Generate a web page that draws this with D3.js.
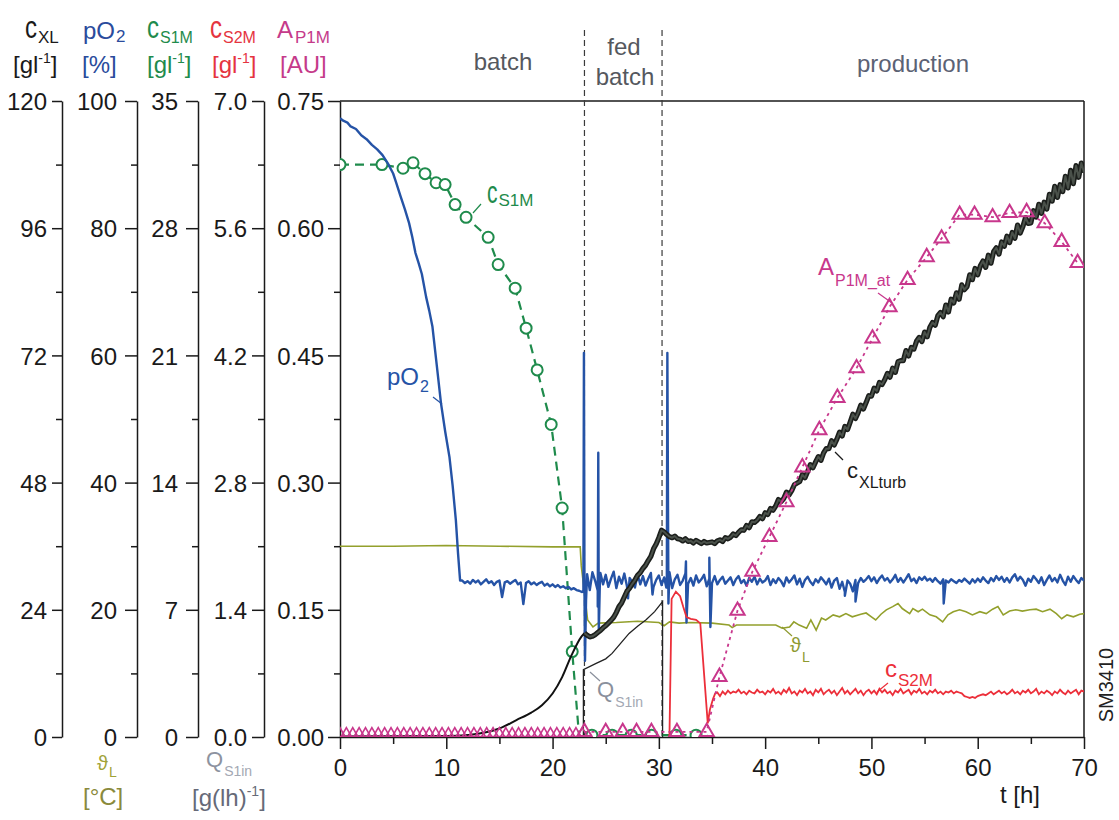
<!DOCTYPE html>
<html>
<head>
<meta charset="utf-8">
<script src="https://cdn.jsdelivr.net/npm/d3@7"></script>
<style>
  body { margin: 0; background: #fff; }
  svg { display: block; }
  text { font-family: "Liberation Sans", Arial, Helvetica, sans-serif; }
</style>
</head>
<body>
<svg id="chart" width="1119" height="820"></svg>
<script>
// ---------------- time axis ----------------
const tTicks = [0, 10, 20, 30, 40, 50, 60, 70];
const tMinor = [5, 15, 25, 35, 45, 55, 65];
const phaseBounds = [23.0, 30.3];          // batch | fed batch | production

// ---------------- left axes (tick values) ----------------
const xlTicks  = [0, 24, 48, 72, 96, 120];            // c_XL  [g/l]
const po2Ticks = [0, 20, 40, 60, 80, 100];            // pO2 [%], also theta_L [°C]
const s1Ticks  = [0, 7, 14, 21, 28, 35];              // c_S1M [g/l]
const s2Ticks  = [0, 1.4, 2.8, 4.2, 5.6, 7.0];        // c_S2M [g/l], also Q_S1in
const apTicks  = [0, 0.15, 0.30, 0.45, 0.60, 0.75];   // A_P1M [AU]

// ---------------- pO2 [%] ----------------
// initial decline (t [h], %)
const pO2Start = [
  [0, 97.3], [0.3, 96.9], [0.7, 96.6], [1.0, 96.0], [1.5, 95.6], [2.0, 94.6], [2.5, 94.0],
  [3.0, 93.1], [3.5, 92.4], [4.0, 91.5], [4.5, 90.2], [5.0, 88.6], [5.3, 87.1], [5.7, 85.0],
  [6.1, 83.0], [6.5, 80.8], [6.8, 78.6], [7.1, 76.1], [7.4, 74.5], [7.7, 72.8], [8.1, 69.2],
  [8.4, 67.0], [8.7, 64.5], [9.1, 58.5], [9.5, 52.5], [9.9, 48.0], [10.3, 44.0], [10.6, 39.5],
  [10.9, 34.1], [11.1, 29.0], [11.3, 24.6]
];
// controlled phase, sampled every 0.25 h from 11.5 h
const pO2Start2 = 11.5, pO2Step = 0.25;
const pO2Ctrl = [
  24.6, 24.2,
  24.5, 24.1, 24.7, 24.3,   24.6, 24.0, 24.4, 24.8,   24.2, 24.5, 23.9, 24.4,
  24.6, 22.0, 24.3, 24.5,   24.1, 24.4, 24.7, 24.0,   24.3, 20.9, 24.2, 24.5,
  24.0, 24.3, 23.9, 24.2,   24.4, 23.8, 24.1, 23.7,   24.0, 23.6, 23.9, 23.5,
  23.7, 23.4, 23.6, 23.2,   23.4, 23.1, 23.0, 22.8,
  23.8, 25.6, 23.1, 25.9,   24.6, 23.0, 25.8, 24.0,   25.5, 23.6, 24.9, 26.0,
  23.4, 25.2, 24.1, 25.7,   23.7, 25.0, 24.4, 23.5,   25.6, 24.0, 25.3, 23.8,
  24.9, 25.8, 23.6, 24.7,   25.4, 23.9, 25.1, 24.2,   25.9, 23.4, 24.8, 25.5,
  23.9, 24.6, 25.7, 24.1,   25.0, 23.8, 25.4, 24.3,   24.8, 25.5, 23.7, 24.9,
  24.2, 25.3, 24.0, 24.7,   25.2, 24.1, 24.6, 25.1,   23.9, 24.8, 25.3, 24.2,
  24.7, 23.8, 25.0, 24.4,   25.2, 24.0, 24.9, 24.3,   24.6, 25.3, 23.9, 24.8,
  24.2, 25.0, 24.5, 23.7,   25.1, 24.3, 24.8, 25.4,   24.0, 24.9, 23.6, 24.7,
  25.2, 24.4, 23.9, 24.8,   24.3, 25.1, 24.6, 24.0,   24.9, 23.5, 24.6, 25.0,
  23.3, 24.4, 22.8, 24.6,   24.1, 22.9, 24.7, 24.2,   25.0, 24.4, 24.8, 25.3,
  24.5, 25.1, 24.2, 24.9,   25.4, 24.6, 25.0, 24.3,   24.8, 25.5, 24.4, 25.0,
  24.3, 24.9, 25.6, 24.5,   24.9, 24.2, 25.1, 24.7,   25.2, 24.6, 24.9, 24.4,
  25.0, 24.5, 24.1, 24.8,   24.6, 24.3, 24.8, 24.5,   24.2, 24.7, 24.4, 24.9,
  24.5, 24.1, 24.8, 24.3,   24.9, 24.4, 25.1, 24.6,   24.2, 25.0, 24.5, 25.3,
  24.7, 25.2, 24.4, 25.0,   24.3, 25.1, 25.6, 24.6,   25.2, 24.7, 23.8, 24.9,
  24.4, 25.3, 24.8, 24.2,   25.1, 23.9, 24.7, 25.4,   24.5, 25.0, 24.3, 25.5,
  24.6, 23.9, 25.2, 24.4,   25.3, 24.7, 24.2, 25.0,
  24.6
];
// sharp excursions (feed pulses, sampling)
const pO2Spikes = [
  [22.9, 23.0], [22.95, 60.4], [23.05, 12.0], [23.15, 21.5],
  [24.25, 20.5], [24.3, 44.7], [24.35, 16.8], [24.45, 24.2],
  [27.1, 21.8], [29.4, 22.4], [30.7, 23.5], [30.8, 60.4], [30.9, 21.0],
  [32.55, 27.6], [32.6, 18.0], [34.75, 28.2], [34.85, 17.3],
  [47.5, 22.2], [48.5, 21.3], [56.8, 21.0]
];

// ---------------- theta_L [°C] ----------------
const thetaL = [
  [0, 30.0], [5, 30.0], [10, 30.1], [15, 30.0], [20, 29.9], [22.6, 29.9], [22.7, 26.9],
  [23.3, 18.4], [23.8, 17.3], [24.3, 17.9], [26, 18.0], [28, 18.2], [30, 18.0], [30.5, 17.5],
  [31, 18.1], [31.9, 17.9], [33, 18.0], [35, 17.9], [36.6, 17.6], [36.9, 17.2], [37.3, 17.6],
  [41.0, 17.6], [41.6, 17.1], [42.3, 17.3], [42.7, 18.1], [43.2, 17.6], [43.9, 17.1],
  [44.3, 18.4], [44.8, 16.8], [45.3, 18.7], [45.7, 18.4], [46.4, 19.2], [47.0, 18.9],
  [47.6, 19.4], [48.2, 18.9], [49.0, 19.3], [49.5, 19.5], [50.0, 18.9], [50.4, 18.4],
  [50.9, 19.3], [51.4, 20.0], [52.0, 20.5], [52.5, 21.0], [52.9, 20.2], [53.6, 19.4],
  [53.9, 20.2], [54.4, 19.7], [54.8, 20.1], [55.5, 19.2], [56.1, 18.9], [56.7, 18.1],
  [57.2, 19.2], [57.7, 19.7], [58.3, 20.0], [58.9, 19.7], [59.5, 19.2], [60.2, 19.7],
  [60.8, 19.4], [61.4, 20.1], [61.9, 20.5], [62.4, 19.2], [63.0, 19.8], [63.6, 20.0],
  [64.2, 19.8], [64.9, 20.0], [65.5, 20.1], [66.1, 19.7], [66.8, 20.1], [67.4, 19.4],
  [67.9, 18.6], [68.4, 19.2], [69.0, 18.9], [69.6, 19.3], [70.0, 19.4]
];

// ---------------- c_S1M [g/l] ----------------
const cS1M = [
  [0, 31.5], [3.95, 31.5], [5.93, 31.3], [6.87, 31.6], [8.0, 31.0], [9.04, 30.5],
  [9.89, 30.4], [10.83, 29.3], [11.86, 28.6], [13.94, 27.5], [14.88, 26.0], [16.48, 24.7],
  [17.51, 22.5], [18.55, 20.2], [19.87, 17.2], [20.9, 12.6], [21.85, 4.7]
];
const cS1MDepletion = [22.5, 0];
const cS1MAfter = [[23.7, 0.1], [25.6, 0.1], [27.4, 0.1], [29.3, 0.1], [31.6, 0.1], [33.5, 0.1]];
const cS1MTail = [34.6, 0.1];

// ---------------- Q_S1in [g/(l h)] ----------------
const qS1in = [
  [22.9, 0], [22.9, 0.74], [24.1, 0.81], [25.0, 0.86], [25.6, 0.92], [26.4, 1.03],
  [27.2, 1.14], [28.0, 1.22], [28.8, 1.29], [29.6, 1.38], [30.35, 1.49], [30.35, 0]
];

// ---------------- c_XL (turbidity) [g/l] ----------------
const cXLBatch = [
  [0, 0.1], [10, 0.2], [12.1, 0.4], [13.5, 0.8], [15, 1.6], [16.6, 3.2], [18, 4.6],
  [19, 6.0], [20, 8.2], [20.9, 11.3], [21.8, 15.5], [22.7, 18.9], [23.0, 19.6]
];
const cXLStart = 23.0, cXLStep = 0.25;
const cXL = [
  19.6, 19.2, 18.9, 19.0,   19.3, 19.7, 20.1, 20.6,   21.0, 21.5, 22.0, 22.6,
  23.5, 24.6, 25.3, 26.4,   27.5, 28.1, 28.9, 29.6,   30.5, 31.0, 31.8, 32.4,
  33.3, 34.1, 35.5, 36.4,   37.6, 39.0, 38.7, 38.2,   37.8, 37.6, 37.9, 37.4,
  37.3, 37.0, 37.4, 36.9,   37.0, 36.6, 37.1, 36.8,   36.5, 36.9, 36.6, 36.7,
  36.8, 36.5, 37.0, 37.2,   36.9, 37.6, 37.4, 37.7,   38.3, 38.0, 38.6, 39.1,
  39.0, 39.9, 39.5, 40.6,   40.5, 40.9, 41.6, 41.2,   42.3, 42.0, 43.1, 42.8,
  43.6, 44.8, 44.4, 45.0,   46.2, 45.7, 46.5, 47.6,   47.9, 48.2, 49.5, 48.9,
  50.1, 51.4, 50.8, 51.9,   52.9, 52.2, 53.6, 54.4,   54.4, 55.9, 55.1, 56.2,
  57.5, 56.8, 58.6, 58.0,   59.4, 60.9, 60.1, 61.2,   62.6, 61.9, 63.1, 64.4,
  64.3, 65.8, 65.3, 66.9,   66.5, 67.4, 68.6, 67.9,   69.6, 68.8, 70.8, 71.0,
  71.0, 72.9, 71.9, 73.5,   73.2, 74.7, 75.4, 74.6,   76.4, 75.5, 77.3, 78.2,
  77.7, 79.5, 80.1, 79.3,   81.5, 80.2, 82.6, 81.9,   83.8, 82.6, 85.3, 84.4,
  85.0, 87.2, 86.3, 88.4,   87.2, 88.9, 89.8, 88.6,   90.9, 89.4, 91.6, 92.3,
  91.1, 93.4, 92.6, 94.5,   93.3, 95.2, 94.1, 96.6,   95.1, 96.3, 98.0, 96.9,
  97.0, 99.3, 98.1, 100.5,  98.8, 100.9, 99.6, 102.4, 101.1, 103.9, 101.8, 104.2,
  102.9, 105.8, 103.6, 106.9, 104.4, 107.8, 105.6, 108.3,
  106.5
];

// ---------------- c_S2M [g/l] ----------------
const cS2MPulse = [
  [30.95, 0], [31.0, 0.03], [31.2, 1.52], [31.6, 1.60], [32.0, 1.55], [32.3, 1.43],
  [32.6, 1.32], [33.0, 1.30], [33.5, 1.29], [33.9, 1.25], [34.6, 0.15], [34.8, 0.30],
  [35.1, 0.42], [35.3, 0.48]
];
const cS2MStart = 35.5, cS2MStep = 0.25;
const cS2M = [
  0.49, 0.45,
  0.50, 0.47, 0.51, 0.48,   0.50, 0.49, 0.52, 0.48,   0.50, 0.47, 0.51, 0.49,
  0.48, 0.52, 0.49, 0.50,   0.47, 0.51, 0.49, 0.53,   0.48, 0.50, 0.47, 0.52,
  0.49, 0.54, 0.48, 0.50,   0.46, 0.51, 0.49, 0.53,   0.48, 0.50, 0.46, 0.52,
  0.49, 0.53, 0.47, 0.50,   0.52, 0.48, 0.51, 0.46,   0.50, 0.54, 0.48, 0.51,
  0.47, 0.50, 0.53, 0.48,   0.51, 0.46, 0.50, 0.52,   0.48, 0.51, 0.47, 0.53,
  0.49, 0.52, 0.48, 0.50,   0.46, 0.51, 0.49, 0.53,   0.48, 0.50, 0.52, 0.47,
  0.51, 0.49, 0.53, 0.48,   0.50, 0.47, 0.51, 0.49,   0.52, 0.48, 0.50, 0.47,
  0.50, 0.49, 0.51, 0.48,   0.50, 0.49, 0.48, 0.45,   0.44, 0.43, 0.44, 0.43,
  0.45, 0.46, 0.47, 0.46,   0.48, 0.50, 0.47, 0.49,   0.51, 0.48, 0.50, 0.47,
  0.49, 0.52, 0.48, 0.50,   0.47, 0.51, 0.49, 0.52,   0.48, 0.50, 0.53, 0.47,
  0.50, 0.48, 0.51, 0.49,   0.46, 0.50, 0.48, 0.52,   0.49, 0.47, 0.51, 0.48,
  0.50, 0.52, 0.47, 0.51,
  0.50
];

// ---------------- A_P1M_at [AU] ----------------
const aBatchT = [
  0, 0.6, 1.2, 1.8, 2.4, 3.0, 3.6, 4.2, 4.8, 5.4, 6.0, 6.6, 7.2, 7.8, 8.4, 9.0, 9.6, 10.2,
  10.8, 11.4, 12.0, 12.6, 13.2, 13.8, 14.4, 15.0, 15.6, 16.2, 16.8, 17.4, 18.0, 18.6, 19.2,
  19.8, 20.4, 21.0, 21.6, 22.2, 22.8
];
const aBatchVal = 0.004;
const aP1M = [
  [23.0, 0.006], [25.0, 0.006], [26.6, 0.006], [27.9, 0.006], [29.3, 0.006], [31.7, 0.006],
  [34.5, 0.006], [35.7, 0.071], [37.4, 0.149], [38.8, 0.195], [40.4, 0.236], [42.0, 0.277],
  [43.5, 0.318], [45.1, 0.362], [46.8, 0.400], [48.6, 0.435], [50.1, 0.470], [51.7, 0.507],
  [53.4, 0.539], [55.2, 0.566], [56.6, 0.588], [58.3, 0.616], [59.7, 0.616], [61.4, 0.613],
  [63.0, 0.618], [64.6, 0.619], [66.3, 0.606], [67.9, 0.584], [69.4, 0.559]
];

// ================= drawing =================
const svg = d3.select("#chart");
const X0 = 340, X1 = 1084, YB = 737, YT = 101;

const x    = d3.scaleLinear().domain([0, 70]).range([X0, X1]);
const yXL  = d3.scaleLinear().domain([0, 120]).range([YB, YT]);
const yPO2 = d3.scaleLinear().domain([0, 100]).range([YB, YT]);
const yS1  = d3.scaleLinear().domain([0, 35]).range([YB, YT]);
const yS2  = d3.scaleLinear().domain([0, 7]).range([YB, YT]);
const yA   = d3.scaleLinear().domain([0, 0.75]).range([YB, YT]);

const COL = {
  ink: "#1a1a1a", blue: "#2553a6", green: "#1f8b4c", red: "#ec2f3a",
  mag: "#c8378c", olive: "#93a02c", oliveTxt: "#8e9a30", gray: "#8a909c"
};

const regular = (t0, dt, vals) => vals.map((v, i) => [t0 + i * dt, v]);

// ---- stacked left axes ----
const axesSpec = [
  { scale: yXL,  pos: 62,  ticks: xlTicks,  fmt: d3.format("d"),   size: 10, pad: 5 },
  { scale: yPO2, pos: 137, ticks: po2Ticks, fmt: d3.format("d"),   size: 12, pad: 8 },
  { scale: yS1,  pos: 198, ticks: s1Ticks,  fmt: d3.format("d"),   size: 12, pad: 8 },
  { scale: yS2,  pos: 264, ticks: s2Ticks,  fmt: d3.format(".1f"), size: 12, pad: 5 },
  { scale: yA,   pos: 340, ticks: apTicks,  fmt: d3.format(".2f"), size: 12, pad: 4 }
];
axesSpec.forEach(a => {
  const g = svg.append("g").attr("transform", `translate(${a.pos},0)`);
  g.call(d3.axisLeft(a.scale).tickValues(a.ticks).tickFormat(a.fmt)
          .tickSize(a.size).tickSizeOuter(0).tickPadding(a.pad));
  const minors = d3.pairs(a.ticks).map(([p, q]) => (p + q) / 2);
  g.append("g").call(d3.axisLeft(a.scale).tickValues(minors).tickSize(6).tickFormat(""))
    .call(s => s.select(".domain").remove());
  g.attr("font-size", 24).attr("font-family", null).style("color", COL.ink);
  g.selectAll("path, line").attr("stroke-width", 1.5);
  g.selectAll(".tick text").attr("dy", "0.36em");
});

// ---- time axis ----
const gx = svg.append("g").attr("transform", `translate(0,${YB})`);
gx.call(d3.axisBottom(x).tickValues(tTicks).tickFormat(d3.format("d"))
         .tickSize(12).tickSizeOuter(0).tickPadding(10));
gx.append("g").call(d3.axisBottom(x).tickValues(tMinor).tickSize(7).tickFormat(""))
  .call(s => s.select(".domain").remove());
gx.attr("font-size", 24).attr("font-family", null).style("color", COL.ink);
gx.selectAll("path, line").attr("stroke-width", 1.5);

// ---- frame ----
svg.append("line").attr("x1", X0).attr("x2", X1).attr("y1", YT).attr("y2", YT)
  .attr("stroke", COL.ink).attr("stroke-width", 1.5);
svg.append("line").attr("x1", X1).attr("x2", X1).attr("y1", YT).attr("y2", YB)
  .attr("stroke", COL.ink).attr("stroke-width", 1.5);

// ---- phase boundaries ----
svg.selectAll("line.phase").data(phaseBounds).join("line").attr("class", "phase")
  .attr("x1", d => x(d)).attr("x2", d => x(d)).attr("y1", 30).attr("y2", YB)
  .attr("stroke", "#3a3a3a").attr("stroke-width", 1.2).attr("stroke-dasharray", "6,4");

// ---- plot area ----
svg.append("clipPath").attr("id", "plotClip").append("rect")
  .attr("x", X0).attr("y", YT - 4).attr("width", X1 - X0).attr("height", YB - YT + 4);
const plot = svg.append("g").attr("clip-path", "url(#plotClip)");

const lineOn = ys => d3.line().x(d => x(d[0])).y(d => ys(d[1]));

// temperature
plot.append("path").datum(thetaL).attr("d", lineOn(yPO2))
  .attr("fill", "none").attr("stroke", COL.olive).attr("stroke-width", 1.6);

// substrate feed rate
plot.append("path").datum(qS1in).attr("d", lineOn(yS2))
  .attr("fill", "none").attr("stroke", "#222").attr("stroke-width", 1.3);

// substrate 1 (dashed with circles)
const s1Line = cS1M.concat([cS1MDepletion], cS1MAfter, [cS1MTail]);
plot.append("path").datum(s1Line).attr("d", lineOn(yS1))
  .attr("fill", "none").attr("stroke", COL.green).attr("stroke-width", 2.2)
  .attr("stroke-dasharray", "9,6");
plot.selectAll("circle.s1").data(cS1M.concat(cS1MAfter)).join("circle").attr("class", "s1")
  .attr("cx", d => x(d[0])).attr("cy", d => yS1(d[1])).attr("r", 5.5)
  .attr("fill", "#fff").attr("stroke", COL.green).attr("stroke-width", 2);

// dissolved oxygen
const pO2All = pO2Start.concat(regular(pO2Start2, pO2Step, pO2Ctrl), pO2Spikes)
  .sort((a, b) => a[0] - b[0]);
plot.append("path").datum(pO2All).attr("d", lineOn(yPO2))
  .attr("fill", "none").attr("stroke", COL.blue).attr("stroke-width", 2.4)
  .attr("stroke-linejoin", "round");

// biomass: thin in batch, broad noisy turbidity signal afterwards
plot.append("path").datum(cXLBatch).attr("d", lineOn(yXL).curve(d3.curveMonotoneX))
  .attr("fill", "none").attr("stroke", "#111").attr("stroke-width", 2);
const cXLProd = regular(cXLStart, cXLStep, cXL);
plot.append("path").datum(cXLProd).attr("d", lineOn(yXL))
  .attr("fill", "none").attr("stroke", "#1c1f1c").attr("stroke-width", 5.2)
  .attr("stroke-linejoin", "round");
plot.append("path").datum(cXLProd).attr("d", lineOn(yXL))
  .attr("fill", "none").attr("stroke", "#4a514a").attr("stroke-width", 2)
  .attr("stroke-linejoin", "round");

// substrate 2
plot.append("path").datum(cS2MPulse.concat(regular(cS2MStart, cS2MStep, cS2M)))
  .attr("d", lineOn(yS2)).attr("fill", "none").attr("stroke", COL.red).attr("stroke-width", 1.8);

// product activity
const tri = d3.symbol().type(d3.symbolTriangle);
plot.selectAll("path.aB").data(aBatchT).join("path").attr("class", "aB")
  .attr("d", tri.size(45)())
  .attr("transform", d => `translate(${x(d)},${yA(aBatchVal)})`)
  .attr("fill", "none").attr("stroke", COL.mag).attr("stroke-width", 1.6);
plot.append("path").datum(aP1M).attr("d", lineOn(yA))
  .attr("fill", "none").attr("stroke", COL.mag).attr("stroke-width", 1.8)
  .attr("stroke-dasharray", "3,4");
plot.selectAll("path.aP").data(aP1M).join("path").attr("class", "aP")
  .attr("d", d3.symbol().type(d3.symbolTriangle).size(88)())
  .attr("transform", d => `translate(${x(d[0])},${yA(d[1])})`)
  .attr("fill", "none").attr("stroke", COL.mag).attr("stroke-width", 2);

// ---- text helpers ----
function nameLabel(x0, y0, main, sub, o) {
  const grp = svg.append("g").attr("transform", `translate(${x0},${y0})`).attr("fill", o.color);
  const m = grp.append("text").text(main).attr("font-size", o.size);
  if (o.stretch) m.attr("transform", `scale(1,${o.stretch})`);
  const w = m.node().getComputedTextLength();
  grp.append("text").text(sub).attr("x", w + (o.gap || 1)).attr("y", o.subDy)
    .attr("font-size", o.subSize).attr("fill", o.subColor || o.color);
  return grp;
}
function unitLabel(x0, y0, pre, sup, post, color) {
  const t = svg.append("text").attr("x", x0).attr("y", y0).attr("font-size", 24).attr("fill", color);
  t.append("tspan").text(pre);
  if (sup) t.append("tspan").text(sup).attr("font-size", 14).attr("dy", -10);
  t.append("tspan").text(post).attr("dy", sup ? 10 : 0);
}
function leader(x1, y1, x2, y2, color) {
  svg.append("line").attr("x1", x1).attr("y1", y1).attr("x2", x2).attr("y2", y2)
    .attr("stroke", color).attr("stroke-width", 1.2);
}

// ---- axis headers ----
nameLabel(25, 38, "c", "XL", { color: COL.ink, size: 24, stretch: 1.3, subSize: 17, subDy: 5 });
nameLabel(83, 39, "pO", "2", { color: "#2a4b9c", size: 24, subSize: 17, subDy: 3 });
nameLabel(147, 38, "c", "S1M", { color: COL.green, size: 24, stretch: 1.3, subSize: 16, subDy: 5 });
nameLabel(210, 38, "c", "S2M", { color: "#e5343f", size: 24, stretch: 1.3, subSize: 16, subDy: 5 });
nameLabel(277, 38, "A", "P1M", { color: "#c53a8a", size: 24, subSize: 17, subDy: 5, gap: 2 });

unitLabel(13, 73, "[gl", "-1", "]", COL.ink);
unitLabel(82, 73, "[%]", null, "", "#2a4b9c");
unitLabel(147, 73, "[gl", "-1", "]", COL.green);
unitLabel(212, 73, "[gl", "-1", "]", "#e5343f");
unitLabel(280, 73, "[AU]", null, "", "#c53a8a");

// labels under the axes
nameLabel(97, 770, "ϑ", "L", { color: "#a0a236", size: 20, subSize: 14, subDy: 7 });
unitLabel(83, 805, "[°C]", null, "", "#8a8a3c");
nameLabel(206, 767, "Q", "S1in", { color: "#8d93a0", size: 22, subSize: 14, subDy: 9, subColor: "#a3a8b3" });
unitLabel(192, 806, "[g(lh)", "-1", "]", "#666a78");

// ---- phase titles ----
const phaseText = [
  { t: "batch", x: 503, y: 70, c: "#55585e" },
  { t: "fed", x: 624, y: 55, c: "#55585e" },
  { t: "batch", x: 625, y: 85, c: "#55585e" },
  { t: "production", x: 913, y: 72, c: "#5b6274" }
];
phaseText.forEach(p => svg.append("text").attr("x", p.x).attr("y", p.y)
  .attr("text-anchor", "middle").attr("font-size", 24).attr("fill", p.c).text(p.t));

// ---- curve labels ----
nameLabel(387, 385, "pO", "2", { color: COL.blue, size: 24, subSize: 16, subDy: 7 });
leader(433, 397, 442, 404, COL.blue);
nameLabel(487, 203, "c", "S1M", { color: COL.green, size: 21, stretch: 1.5, subSize: 17, subDy: 3 });
leader(473, 213, 481, 204, COL.green);
nameLabel(847, 478, "c", "XLturb", { color: COL.ink, size: 22, subSize: 16, subDy: 10 });
leader(835, 452, 843, 460, COL.ink);
nameLabel(597, 697, "Q", "S1in", { color: COL.gray, size: 22, subSize: 14, subDy: 10, subColor: "#a3a8b3" });
leader(590, 672, 600, 681, COL.gray);
nameLabel(790, 652, "ϑ", "L", { color: COL.oliveTxt, size: 20, subSize: 14, subDy: 10 });
leader(782, 627, 792, 636, COL.oliveTxt);
nameLabel(885, 677, "c", "S2M", { color: COL.red, size: 24, subSize: 17, subDy: 9 });
leader(877, 692, 888, 683, COL.red);
nameLabel(818, 275, "A", "P1M_at", { color: COL.mag, size: 24, subSize: 16, subDy: 11 });
leader(878, 293, 892, 303, COL.mag);

// ---- axis title and figure code ----
svg.append("text").attr("x", 1000).attr("y", 803).attr("font-size", 24)
  .attr("fill", COL.ink).text("t [h]");
svg.append("text").attr("transform", "translate(1113,685) rotate(-90)")
  .attr("text-anchor", "middle").attr("font-size", 20).attr("fill", "#222").text("SM3410");
</script>
</body>
</html>
